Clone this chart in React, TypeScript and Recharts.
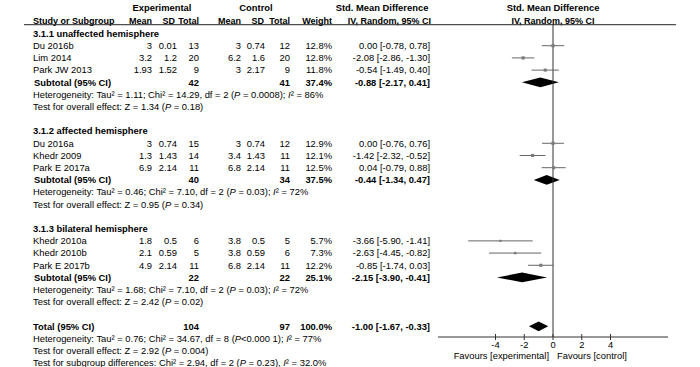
import { ComposedChart, ErrorBar, ReferenceArea, ReferenceLine, Scatter, XAxis, YAxis } from "recharts";

const GROUP_TITLES = ["3.1.1 unaffected hemisphere", "3.1.2 affected hemisphere", "3.1.3 bilateral hemisphere"];

const STUDY_NAMES = ["Du 2016b", "Lim 2014", "Park JW 2013", "Du 2016a", "Khedr 2009", "Park E 2017a", "Khedr 2010a", "Khedr 2010b", "Park E 2017b"];
const STUDY_GROUP = [0, 0, 0, 1, 1, 1, 2, 2, 2];
const EXP_MEAN = [3, 3.2, 1.93, 3, 1.3, 6.9, 1.8, 2.1, 4.9];
const EXP_SD = [0.01, 1.2, 1.52, 0.74, 1.43, 2.14, 0.5, 0.59, 2.14];
const EXP_N = [13, 20, 9, 15, 14, 11, 6, 5, 11];
const CTL_MEAN = [3, 6.2, 3, 3, 3.4, 6.8, 3.8, 3.8, 6.8];
const CTL_SD = [0.74, 1.6, 2.17, 0.74, 1.43, 2.14, 0.5, 0.59, 2.14];
const CTL_N = [12, 20, 9, 12, 11, 11, 5, 6, 11];
const WEIGHT = [12.8, 12.8, 11.8, 12.9, 12.1, 12.5, 5.7, 7.3, 12.2];
const SMD = [0.0, -2.08, -0.54, 0.0, -1.42, 0.04, -3.66, -2.63, -0.85];
const CI_LO = [-0.78, -2.86, -1.49, -0.76, -2.32, -0.79, -5.9, -4.45, -1.74];
const CI_HI = [0.78, -1.3, 0.4, 0.76, -0.52, 0.88, -1.41, -0.82, 0.03];

const SUB_EXP_N = [42, 40, 22];
const SUB_CTL_N = [41, 34, 22];
const SUB_WEIGHT = [37.4, 37.5, 25.1];
const SUB_SMD = [-0.88, -0.44, -2.15];
const SUB_LO = [-2.17, -1.34, -3.9];
const SUB_HI = [0.41, 0.47, -0.41];
const SUB_TAU2 = ["1.11", "0.46", "1.68"];
const SUB_CHI2 = ["14.29", "7.10", "7.10"];
const SUB_DF = [2, 2, 2];
const SUB_HET_P = ["= 0.0008", "= 0.03", "= 0.03"];
const SUB_I2 = ["86%", "72%", "72%"];
const SUB_Z = ["1.34", "0.95", "2.42"];
const SUB_Z_P = ["0.18", "0.34", "0.02"];

const TOTAL_N = [104, 97];
const TOTAL_WEIGHT = 100.0;
const TOTAL_CI = [-1.0, -1.67, -0.33];
const TOTAL_HET = ["0.76", "34.67", "8", "<0.000 1", "77%"];
const TOTAL_Z = ["2.92", "0.004"];
const SUBGROUP_TEST = ["2.94", "2", "0.23", "32.0%"];

const X_TICKS = [-4, -2, 0, 2, 4];

// column anchors (px)
const COL = { name: 33, expMean: 152, expSD: 177, expN: 199, ctlMean: 241, ctlSD: 265, ctlN: 290, weight: 332, ci: 430, plot: 553 };
const FONT = "'Liberation Sans', Arial, sans-serif";

type RowSpec = { at: number; kind: string; g?: number; s?: number };

const ROWS: RowSpec[] = [
  { at: -2.15, kind: "head1" },
  { at: -1.05, kind: "head2" },
];
let cursor = 0;
GROUP_TITLES.forEach((_, g) => {
  ROWS.push({ at: cursor++, kind: "group", g });
  STUDY_NAMES.forEach((_n, s) => {
    if (STUDY_GROUP[s] === g) ROWS.push({ at: cursor++, kind: "study", s });
  });
  ROWS.push({ at: cursor++, kind: "subtotal", g });
  ROWS.push({ at: cursor++, kind: "het", g });
  ROWS.push({ at: cursor++, kind: "test", g });
  cursor++;
});
ROWS.push({ at: cursor++, kind: "total" });
ROWS.push({ at: cursor++, kind: "totalHet" });
ROWS.push({ at: cursor++, kind: "totalTest" });
ROWS.push({ at: cursor++, kind: "subgroupTest" });

const fmt = (v: number) => v.toFixed(2);
const ciText = (m: number, lo: number, hi: number) => `${fmt(m)} [${fmt(lo)}, ${fmt(hi)}]`;

const studyData = ROWS.filter((r) => r.kind === "study").map((r) => {
  const s = r.s as number;
  return { x: SMD[s], y: r.at, err: [SMD[s] - CI_LO[s], CI_HI[s] - SMD[s]], w: WEIGHT[s] };
});

const diamonds = ROWS.filter((r) => r.kind === "subtotal" || r.kind === "total").map((r) =>
  r.kind === "total"
    ? { y: r.at, m: TOTAL_CI[0], lo: TOTAL_CI[1], hi: TOTAL_CI[2] }
    : { y: r.at, m: SUB_SMD[r.g as number], lo: SUB_LO[r.g as number], hi: SUB_HI[r.g as number] }
);

type Seg = { t: string; i?: boolean };

function Txt({ x, y, anchor = "start", bold = false, size = 9.4, children }: any) {
  return (
    <text x={x} y={y} dy="0.35em" textAnchor={anchor} fontFamily={FONT} fontSize={size} fontWeight={bold ? "bold" : "normal"} fill="#000">
      {children}
    </text>
  );
}

function Rich({ x, y, segs }: { x: number; y: number; segs: Seg[] }) {
  return (
    <Txt x={x} y={y}>
      {segs.map((sg, k) => (
        <tspan key={k} fontStyle={sg.i ? "italic" : "normal"}>
          {sg.t}
        </tspan>
      ))}
    </Txt>
  );
}

function RowTick(props: any) {
  const { y, payload } = props;
  const row = ROWS.find((r) => r.at === payload.value);
  if (!row) return null;
  const g = row.g as number;
  const s = row.s as number;
  switch (row.kind) {
    case "head1":
      return (
        <g>
          <Txt x={162} y={y} anchor="middle" bold>Experimental</Txt>
          <Txt x={256} y={y} anchor="middle" bold>Control</Txt>
          <Txt x={382} y={y} anchor="middle" bold>Std. Mean Difference</Txt>
          <Txt x={COL.plot} y={y} anchor="middle" bold>Std. Mean Difference</Txt>
        </g>
      );
    case "head2":
      return (
        <g>
          <Txt x={COL.name} y={y} bold size={9}>Study or Subgroup</Txt>
          <Txt x={COL.expMean} y={y} anchor="end" bold size={9}>Mean</Txt>
          <Txt x={COL.expSD - 2} y={y} anchor="end" bold size={9}>SD</Txt>
          <Txt x={COL.expN} y={y} anchor="end" bold size={9}>Total</Txt>
          <Txt x={COL.ctlMean} y={y} anchor="end" bold size={9}>Mean</Txt>
          <Txt x={COL.ctlSD - 1} y={y} anchor="end" bold size={9}>SD</Txt>
          <Txt x={COL.ctlN} y={y} anchor="end" bold size={9}>Total</Txt>
          <Txt x={COL.weight} y={y} anchor="end" bold size={9}>Weight</Txt>
          <Txt x={COL.ci + 1} y={y} anchor="end" bold size={9}>IV, Random, 95% CI</Txt>
          <Txt x={COL.plot} y={y} anchor="middle" bold size={9}>IV, Random, 95% CI</Txt>
          <line x1={24} x2={676} y1={y + 4} y2={y + 4} stroke="#222" strokeWidth={1} />
        </g>
      );
    case "group":
      return <Txt x={COL.name} y={y} bold>{GROUP_TITLES[g]}</Txt>;
    case "study":
      return (
        <g>
          <Txt x={COL.name} y={y}>{STUDY_NAMES[s]}</Txt>
          <Txt x={COL.expMean} y={y} anchor="end">{String(EXP_MEAN[s])}</Txt>
          <Txt x={COL.expSD} y={y} anchor="end">{String(EXP_SD[s])}</Txt>
          <Txt x={COL.expN} y={y} anchor="end">{String(EXP_N[s])}</Txt>
          <Txt x={COL.ctlMean} y={y} anchor="end">{String(CTL_MEAN[s])}</Txt>
          <Txt x={COL.ctlSD} y={y} anchor="end">{String(CTL_SD[s])}</Txt>
          <Txt x={COL.ctlN} y={y} anchor="end">{String(CTL_N[s])}</Txt>
          <Txt x={COL.weight} y={y} anchor="end">{WEIGHT[s].toFixed(1)}%</Txt>
          <Txt x={COL.ci} y={y} anchor="end">{ciText(SMD[s], CI_LO[s], CI_HI[s])}</Txt>
        </g>
      );
    case "subtotal":
      return (
        <g>
          <Txt x={COL.name + 1} y={y} bold>Subtotal (95% CI)</Txt>
          <Txt x={COL.expN} y={y} anchor="end" bold>{String(SUB_EXP_N[g])}</Txt>
          <Txt x={COL.ctlN} y={y} anchor="end" bold>{String(SUB_CTL_N[g])}</Txt>
          <Txt x={COL.weight} y={y} anchor="end" bold>{SUB_WEIGHT[g].toFixed(1)}%</Txt>
          <Txt x={COL.ci} y={y} anchor="end" bold>{ciText(SUB_SMD[g], SUB_LO[g], SUB_HI[g])}</Txt>
        </g>
      );
    case "het":
      return (
        <Rich
          x={COL.name}
          y={y}
          segs={[
            { t: `Heterogeneity: Tau² = ${SUB_TAU2[g]}; Chi² = ${SUB_CHI2[g]}, df = ${SUB_DF[g]} (` },
            { t: "P", i: true },
            { t: ` ${SUB_HET_P[g]}); ` },
            { t: "I", i: true },
            { t: `² = ${SUB_I2[g]}` },
          ]}
        />
      );
    case "test":
      return (
        <Rich
          x={COL.name}
          y={y}
          segs={[{ t: `Test for overall effect: Z = ${SUB_Z[g]} (` }, { t: "P", i: true }, { t: ` = ${SUB_Z_P[g]})` }]}
        />
      );
    case "total":
      return (
        <g>
          <Txt x={COL.name} y={y} bold>Total (95% CI)</Txt>
          <Txt x={COL.expN} y={y} anchor="end" bold>{String(TOTAL_N[0])}</Txt>
          <Txt x={COL.ctlN} y={y} anchor="end" bold>{String(TOTAL_N[1])}</Txt>
          <Txt x={COL.weight} y={y} anchor="end" bold>{TOTAL_WEIGHT.toFixed(1)}%</Txt>
          <Txt x={COL.ci} y={y} anchor="end" bold>{ciText(TOTAL_CI[0], TOTAL_CI[1], TOTAL_CI[2])}</Txt>
        </g>
      );
    case "totalHet":
      return (
        <Rich
          x={COL.name}
          y={y}
          segs={[
            { t: `Heterogeneity: Tau² = ${TOTAL_HET[0]}; Chi² = ${TOTAL_HET[1]}, df = ${TOTAL_HET[2]} (` },
            { t: "P", i: true },
            { t: `${TOTAL_HET[3]}); ` },
            { t: "I", i: true },
            { t: `² = ${TOTAL_HET[4]}` },
          ]}
        />
      );
    case "totalTest":
      return (
        <Rich
          x={COL.name}
          y={y}
          segs={[{ t: `Test for overall effect: Z = ${TOTAL_Z[0]} (` }, { t: "P", i: true }, { t: ` = ${TOTAL_Z[1]})` }]}
        />
      );
    case "subgroupTest":
      return (
        <Rich
          x={COL.name}
          y={y}
          segs={[
            { t: `Test for subgroup differences: Chi² = ${SUBGROUP_TEST[0]}, df = ${SUBGROUP_TEST[1]} (` },
            { t: "P", i: true },
            { t: ` = ${SUBGROUP_TEST[2]}), ` },
            { t: "I", i: true },
            { t: `² = ${SUBGROUP_TEST[3]}` },
          ]}
        />
      );
    default:
      return null;
  }
}

function XTick(props: any) {
  const { x, y, payload } = props;
  return (
    <g>
      <line x1={x} x2={x} y1={y - 3} y2={y + 3} stroke="#333" />
      <Txt x={x} y={y + 8} anchor="middle">{String(payload.value)}</Txt>
      {payload.value === 0 && (
        <g>
          <Txt x={x - 4} y={y + 19} anchor="end">Favours [experimental]</Txt>
          <Txt x={x + 4} y={y + 19}>Favours [control]</Txt>
        </g>
      )}
    </g>
  );
}

function StudySquare(props: any) {
  const { cx, cy, payload } = props;
  const side = 1.4 + payload.w * 0.14;
  return <rect x={cx - side / 2} y={cy - side / 2} width={side} height={side} fill="#7a7a7a" />;
}

function diamondShape(m: number, lo: number, hi: number) {
  return (p: any) => {
    const { x, y, width, height } = p;
    const mx = x + ((m - lo) / (hi - lo)) * width;
    const my = y + height / 2;
    return <polygon points={`${x},${my} ${mx},${y} ${x + width},${my} ${mx},${y + height}`} fill="#000" />;
  };
}

export default function App() {
  return (
    <div style={{ position: "absolute", left: 0, top: 0, width: 700, height: 367, background: "#fff" }}>
      <ComposedChart width={700} height={367} margin={{ top: 24, right: 32, bottom: 0, left: 0 }}>
        <XAxis
          type="number"
          dataKey="x"
          domain={[-8, 8]}
          ticks={X_TICKS}
          interval={0}
          allowDataOverflow
          tickLine={false}
          tickSize={0}
          tickMargin={0}
          stroke="#333"
          height={30}
          tick={XTick}
        />
        <YAxis
          type="number"
          dataKey="y"
          domain={[-0.78, 24.88]}
          allowDataOverflow
          reversed
          ticks={ROWS.map((r) => r.at)}
          interval={0}
          width={438}
          axisLine={false}
          tickLine={false}
          tick={RowTick}
        />
        <ReferenceLine x={0} stroke="#333" strokeWidth={1} />
        {diamonds.map((d, i) => (
          <ReferenceArea
            key={i}
            x1={d.lo}
            x2={d.hi}
            y1={d.y - 0.4}
            y2={d.y + 0.4}
            ifOverflow="visible"
            shape={diamondShape(d.m, d.lo, d.hi)}
          />
        ))}
        <Scatter data={studyData} dataKey="y" isAnimationActive={false} shape={StudySquare}>
          <ErrorBar dataKey="err" direction="x" width={0} stroke="#666" strokeWidth={1} isAnimationActive={false} />
        </Scatter>
      </ComposedChart>
    </div>
  );
}
